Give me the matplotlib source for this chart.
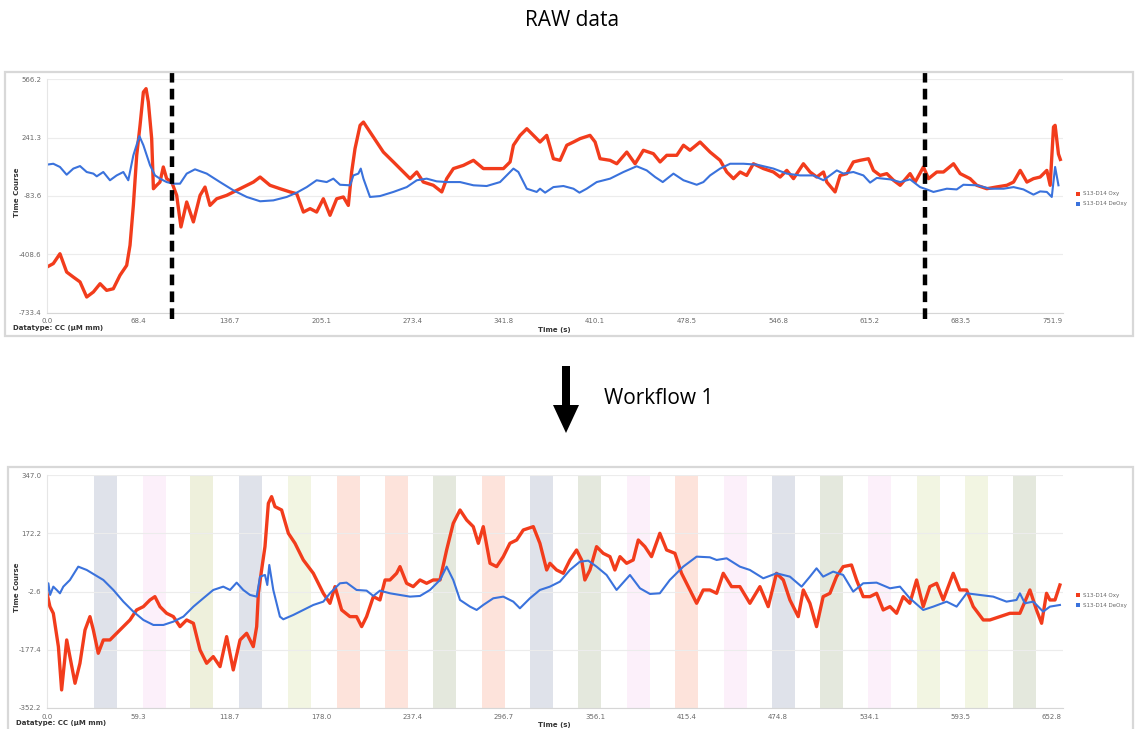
import numpy as np
import matplotlib
matplotlib.use("Agg")
import matplotlib.pyplot as plt
from matplotlib.patches import Rectangle, FancyArrow

W, H = 1135, 729

# ---- S13-D14, raw recording ----
raw_oxy_t = [0, 4.7, 9.7, 14.7, 19.7, 24.7, 29.7, 34.7, 39.7, 44.6, 49.6, 54.6, 59.6, 62.1, 64.6,
             67.1, 69.6, 72.1, 74.1, 75.8, 78.3, 79.6, 82.0, 84.5, 87.0, 89.5, 93.3, 97.0, 100.2,
             104.5, 109.5, 114.5, 118.2, 121.9, 126.9, 134.4, 144.4, 154.4, 159.4, 166.8, 174.3,
             181.8, 186.8, 191.8, 196.8, 201.7, 206.7, 211.7, 216.7, 221.7, 225.4, 227.9, 230.4,
             234.2, 236.7, 241.6, 246.6, 251.6, 259.1, 266.6, 271.6, 276.6, 281.5, 289.0, 295.3,
             299.0, 304.0, 311.5, 319.0, 326.4, 333.9, 341.4, 346.4, 348.9, 353.9, 358.9, 363.8,
             368.8, 373.8, 378.8, 383.8, 388.8, 393.8, 398.8, 406.2, 410.0, 413.7, 421.2, 426.2,
             433.7, 439.9, 446.1, 453.6, 458.6, 463.6, 471.1, 476.1, 481.0, 488.5, 496.0, 503.5,
             508.5, 513.5, 518.5, 523.4, 528.4, 535.9, 543.4, 548.4, 553.4, 558.4, 565.8, 570.8,
             575.8, 580.8, 583.3, 589.5, 593.3, 598.3, 603.2, 608.2, 614.5, 618.2, 623.2, 628.2,
             633.2, 638.2, 645.6, 649.4, 655.6, 659.4, 665.6, 670.6, 678.1, 683.1, 690.5, 695.5,
             703.0, 710.5, 718.0, 723.0, 728.0, 733.0, 737.9, 742.9, 747.9, 750.4, 752.9, 754.1,
             756.6, 758.0]
raw_oxy = [-479, -460, -405, -507, -535, -562, -646, -618, -572, -609, -600, -525, -470, -358, -136,
           143, 310, 495, 514, 440, 236, -43, -24, -6, 78, 13, -6, -80, -256,
           -117, -228, -80, -34, -136, -99, -80, -43, -6, 22, -24, -43,
           -61, -71, -173, -154, -173, -99, -191, -99, -89, -136, 50, 180,
           310, 328, 273, 217, 161, 106, 50, 13, 50, -6, -24, -61,
           13, 69, 87, 115, 69, 69, 69, 106, 199, 254, 291, 254,
           217, 254, 124, 115, 199, 217, 236, 254, 217, 124, 115, 96,
           161, 96, 171, 152, 106, 143, 143, 199, 171, 217, 161, 115,
           50, 13, 50, 31, 96, 69, 50, 22, 59, 13, 96, 50,
           22, 50, -6, -61, 31, 41, 106, 115, 124, 59, 31, 41,
           4, -24, 41, -6, 78, 13, 50, 50, 96, 41, 13, -24,
           -43, -33, -24, -6, 59, -6, 13, 22, 59, -24, 301, 310,
           150, 120]

raw_deoxy_t = [0, 4.7, 9.7, 14.7, 19.7, 24.7, 29.7, 34.7, 37.2, 42.1, 47.1, 52.1, 57.1, 60.8, 64.6,
               69.1, 72.1, 77.1, 80.8, 84.5, 89.5, 94.5, 99.5, 104.5, 110.7, 119.5, 129.4, 139.4,
               149.4, 159.4, 169.3, 179.3, 186.8, 194.3, 201.7, 209.2, 214.2, 219.2, 226.7, 229.2,
               232.9, 234.7, 236.7, 241.6, 249.1, 259.1, 269.1, 276.6, 284.0, 291.5, 299.0, 309.0,
               319.0, 328.9, 338.9, 348.9, 352.6, 358.9, 366.3, 368.8, 372.6, 378.8, 386.3, 393.8,
               398.3, 403.7, 411.2, 421.2, 431.2, 441.1, 448.6, 454.9, 460.6, 468.6, 476.1, 486.0,
               491.0, 496.0, 503.5, 511.0, 521.0, 531.0, 543.4, 553.4, 563.3, 573.3, 580.8, 590.8,
               595.8, 603.2, 610.7, 615.7, 620.7, 630.7, 638.2, 645.6, 653.1, 658.1, 663.1, 673.1,
               680.5, 685.5, 695.5, 705.5, 715.5, 723.0, 730.4, 737.9, 742.9, 747.9, 751.6, 754.1,
               756.6]
raw_deoxy = [91, 96, 78, 35, 69, 83, 50, 41, 26, 50, 4, 31, 50, 4, 143,
             250, 199, 87, 31, 13, -6, -15, -15, 41, 65, 41, -6, -52,
             -89, -113, -108, -89, -65, -34, 4, -6, 13, -21, -24, 31,
             41, 69, 13, -89, -84, -61, -34, 4, 13, -2, -6, -6,
             -24, -28, -6, 69, 50, -43, -61, -43, -65, -34, -28, -43,
             -65, -43, -6, 13, 50, 82, 59, 22, -6, 41, 4, -21,
             -6, 31, 69, 96, 96, 91, 69, 41, 31, 31, 4, 59,
             41, 50, 31, -9, 17, 9, -6, 9, -34, -47, -61, -43,
             -47, -21, -24, -43, -43, -34, -47, -76, -58, -61, -89, 78,
             -24]

raw_xticks = [0.0, 68.4, 136.7, 205.1, 273.4, 341.8, 410.1, 478.5, 546.8, 615.2, 683.5, 751.9]
raw_yticks = [-733.4, -408.6, -83.6, 241.3, 566.2]
raw_cuts = [93.5, 656.9]

# ---- S13-D14 after workflow 1 ----
wf_oxy_t = [0, 1.9, 4.1, 7.4, 9.5, 12.8, 14.9, 18.2, 21.4, 24.7, 27.9, 30.1, 33.3, 36.6, 40.9,
            45.2, 49.6, 53.9, 58.2, 62.6, 66.9, 70.1, 73.4, 77.7, 82.1, 86.4, 90.7, 95.1, 99.4,
            103.7, 108.0, 112.4, 116.7, 121.0, 125.4, 129.7, 134.0, 136.2, 137.3, 139.4, 141.6,
            143.8, 145.9, 148.1, 152.4, 156.8, 161.1, 166.5, 173.0, 179.5, 183.8, 187.1, 191.4,
            196.8, 201.1, 204.4, 207.6, 212.0, 216.3, 219.6, 222.8, 227.1, 229.3, 233.6, 237.9,
            242.3, 246.6, 250.9, 255.3, 259.6, 263.9, 268.3, 272.6, 276.9, 280.2, 283.4, 287.8,
            292.1, 296.4, 300.7, 305.1, 309.4, 315.9, 320.2, 324.6, 326.7, 331.0, 335.4, 339.7,
            344.0, 347.3, 349.4, 352.7, 357.0, 361.3, 365.7, 368.9, 372.2, 376.5, 380.8, 384.1,
            388.4, 392.7, 398.1, 402.5, 407.9, 412.2, 417.6, 422.0, 426.3, 430.6, 435.0, 439.3,
            444.7, 450.1, 456.6, 463.1, 468.5, 473.9, 478.3, 482.6, 488.0, 491.3, 495.6, 499.9,
            504.2, 508.6, 512.9, 517.2, 522.6, 525.9, 530.2, 534.6, 538.9, 543.2, 547.6, 551.9,
            556.2, 560.5, 564.9, 569.2, 573.5, 577.9, 582.2, 588.7, 593.0, 597.4, 601.7, 608.2,
            612.5, 619.0, 625.5, 632.0, 638.5, 642.8, 646.1, 649.3, 651.5, 654.8, 658.0]
wf_oxy = [-8, -48, -68, -168, -298, -148, -198, -278, -218, -118, -78, -118, -188, -148, -148,
          -128, -108, -88, -58, -48, -28, -18, -48, -68, -78, -108, -88, -98, -178,
          -218, -198, -228, -138, -238, -148, -128, -168, -108, -8, 62, 132,
          262, 282, 252, 242, 172, 142, 92, 52, -8, -38, 12, -58,
          -78, -78, -108, -78, -18, -28, 32, 32, 52, 72, 22, 12,
          32, 22, 32, 32, 122, 202, 242, 212, 192, 142, 192, 82,
          72, 102, 142, 152, 182, 192, 142, 62, 82, 62, 52, 92,
          122, 92, 32, 62, 132, 112, 102, 62, 102, 82, 92, 152,
          132, 102, 172, 122, 112, 52, 2, -38, 2, 2, -8, 52,
          12, 12, -38, 12, -48, 52, 32, -28, -78, 2, -38, -108,
          -18, -8, 42, 72, 77, 32, -18, -18, -8, -58, -48, -68,
          -18, -38, 32, -48, 12, 22, -28, 52, 2, 2, -48, -88,
          -88, -78, -68, -68, 2, -58, -98, -8, -28, -28, 17]

wf_deoxy_t = [0, 0.9, 2.0, 4.1, 6.3, 8.4, 10.6, 14.9, 20.3, 25.8, 30.1, 36.6, 43.1, 49.6, 56.1,
              62.6, 69.1, 75.6, 82.1, 88.6, 95.1, 101.5, 108.0, 114.5, 118.9, 123.2, 127.5, 131.9,
              136.2, 138.4, 141.6, 143.1, 144.4, 147.0, 151.3, 153.5, 160.0, 166.5, 173.0, 179.5,
              183.8, 190.3, 194.6, 201.1, 207.6, 212.0, 216.3, 222.8, 229.3, 235.8, 242.3, 248.8,
              255.3, 259.6, 263.9, 268.3, 274.8, 279.1, 283.4, 289.9, 296.4, 302.9, 307.2, 313.7,
              320.2, 326.7, 333.2, 339.7, 346.2, 351.6, 357.0, 363.5, 370.0, 378.7, 385.2, 391.7,
              398.1, 404.6, 413.3, 422.0, 430.6, 435.0, 441.5, 450.1, 456.6, 465.3, 473.9, 482.6,
              490.2, 495.6, 499.9, 504.2, 510.7, 517.2, 523.7, 530.2, 538.9, 547.6, 554.1, 560.5,
              569.2, 575.7, 584.4, 590.9, 597.4, 606.0, 614.7, 623.3, 629.8, 632.0, 635.2, 640.7,
              647.1, 651.5, 658.0]
wf_deoxy = [-8, 22, -13, 12, 2, -8, 12, 32, 72, 62, 50, 32, 2, -33, -63,
            -88, -103, -103, -93, -78, -48, -23, 2, 12, 2, 24, 2, -13,
            -18, 42, 47, 17, 77, 2, -78, -86, -73, -58, -43, -33,
            -8, 22, 24, 2, 0, -16, 0, -8, -13, -18, -16, 2,
            32, 72, 32, -28, -48, -58, -43, -23, -18, -33, -53, -23,
            2, 12, 27, 62, 87, 90, 72, 47, 2, 47, 7, -10,
            -8, 32, 72, 102, 100, 92, 97, 72, 62, 37, 52, 42,
            12, 42, 67, 42, 57, 47, -3, 22, 24, 7, 12, -23,
            -58, -48, -33, -48, -8, -13, -18, -33, -28, -8, -38, -33,
            -63, -48, -43]

wf_xticks = [0.0, 59.3, 118.7, 178.0, 237.4, 296.7, 356.1, 415.4, 474.8, 534.1, 593.5, 652.8]
wf_yticks = [-352.2, -177.4, -2.6, 172.2, 347.0]

# stimulation blocks (onset in s, condition)
block_onsets = [30.5, 62.4, 92.9, 124.7, 156.5, 188.4, 219.6, 250.7, 282.6, 313.8,
                344.9, 376.8, 408.0, 439.8, 471.0, 502.1, 533.3, 565.2, 596.3, 627.5]
block_kinds = ["A", "B", "C", "A", "D", "E", "E", "F", "E", "A",
               "F", "B", "E", "B", "A", "F", "B", "D", "D", "F"]
block_len = 15.0
block_colors = {"A": "#dfe2ea", "B": "#fcf0fa", "C": "#eef0dc", "D": "#f2f5e2",
                "E": "#fde3db", "F": "#e4e8dd"}

RED = "#f23c1c"
BLUE = "#3a72dc"


def fx(x):
    return x / W


def fy(y):
    return 1 - y / H


def make_axes(fig, top, bottom, xmax, xticks, yticks):
    ax = fig.add_axes([fx(47), fy(bottom), fx(1063 - 47), (bottom - top) / H])
    ax.set_xlim(0, xmax)
    ax.set_ylim(yticks[0], yticks[-1])
    ax.set_xticks(xticks)
    ax.set_xticklabels(["%.1f" % v for v in xticks])
    ax.set_yticks(yticks)
    ax.set_yticklabels(["%.1f" % v for v in yticks])
    ax.tick_params(length=0, labelsize=5, labelcolor="#6a6a6a", pad=4)
    ax.grid(axis="y", color="#ececec", lw=0.8)
    ax.set_axisbelow(True)
    for s in ("top", "right"):
        ax.spines[s].set_visible(False)
    ax.spines["left"].set_color("#e6e6e6")
    ax.spines["bottom"].set_color("#d6d6d6")
    return ax


def frame_and_labels(fig, top, bottom, left, ax_bottom):
    fig.add_artist(Rectangle((fx(left), fy(bottom)), fx(1133 - left), (bottom - top) / H,
                             transform=fig.transFigure, fill=False, ec="#d8d8d8", lw=1.6))
    mid = (top + ax_bottom) / 2
    fig.text(fx(17), fy(mid), "Time Course", rotation=90, ha="center", va="center",
             fontsize=5, fontweight="bold", color="#333333")
    fig.text(fx(554), fy(ax_bottom + 17), "Time (s)", ha="center", va="center",
             fontsize=5, fontweight="bold", color="#333333")
    fig.text(fx(left + 8), fy(ax_bottom + 15), "Datatype: CC (\u00b5M mm)", ha="left",
             va="center", fontsize=5, fontweight="bold", color="#333333")


def legend(fig, y):
    for i, (lab, c) in enumerate([("S13-D14 Oxy", RED), ("S13-D14 DeOxy", BLUE)]):
        yy = y + i * 10
        fig.add_artist(Rectangle((fx(1076), fy(yy + 2)), fx(4), 4 / H,
                                 transform=fig.transFigure, color=c, lw=0))
        fig.text(fx(1083), fy(yy), lab, ha="left", va="center", fontsize=4, color="#666666")


fig = plt.figure(figsize=(W / 100, H / 100), dpi=100)

# RAW panel
ax1 = make_axes(fig, 79.3, 312.7, 760, raw_xticks, raw_yticks)
ax1.plot(raw_oxy_t, raw_oxy, color=RED, lw=2.4, solid_joinstyle="round")
ax1.plot(raw_deoxy_t, raw_deoxy, color=BLUE, lw=1.5)
for t in raw_cuts:
    ax1.axvline(t, ymin=-0.025, ymax=1.032, color="black", lw=3.2,
                linestyle=(0, (2.4, 1.4)), clip_on=False, zorder=5)
frame_and_labels(fig, 72, 336, 5, 312.7)
legend(fig, 194)

# Workflow 1 panel
ax2 = make_axes(fig, 475, 708, 660, wf_xticks, wf_yticks)
for t0, k in zip(block_onsets, block_kinds):
    ax2.axvspan(t0, t0 + block_len, color=block_colors[k], lw=0, zorder=0)
ax2.plot(wf_oxy_t, wf_oxy, color=RED, lw=2.4, solid_joinstyle="round")
ax2.plot(wf_deoxy_t, wf_deoxy, color=BLUE, lw=1.5)
frame_and_labels(fig, 467, 731, 8, 708)
legend(fig, 595)

# headings and workflow arrow
fig.text(fx(572), fy(21), "RAW data", ha="center", va="center", fontsize=15,
         family="Open Sans", color="black")
fig.text(fx(604), fy(399), "Workflow 1", ha="left", va="center", fontsize=15,
         family="Open Sans", color="black")
fig.add_artist(FancyArrow(5.66, (H - 366) / 100, 0, -0.67, width=0.08, head_width=0.26,
                          head_length=0.28, length_includes_head=True,
                          transform=fig.dpi_scale_trans, color="black", lw=0))

fig.savefig("out.png", dpi=100)
